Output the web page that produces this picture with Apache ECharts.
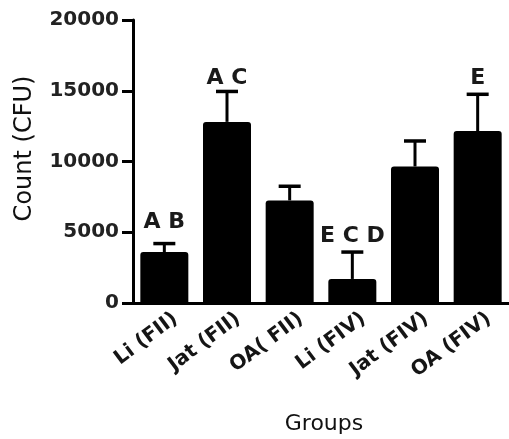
<!DOCTYPE html>
<html><head><meta charset="utf-8">
<script src="https://cdn.jsdelivr.net/npm/echarts@6/dist/echarts.min.js"></script>
<style>html,body{margin:0;padding:0;background:#fff}#c{width:509px;height:439px}</style>
</head><body><div id="c"></div>
<script>
var categories = ['Li (FII)', 'Jat (FII)', 'OA( FII)', 'Li (FIV)', 'Jat (FIV)', 'OA (FIV)'];
var means = [3600, 12800, 7250, 1700, 9650, 12150];
var errors = [600, 2150, 1000, 1900, 1800, 2600];
var yTicks = [0, 5000, 10000, 15000, 20000];
var letterIdx = [0, 1, 3, 5];
var letterText = ['A B', 'A C', 'E C D', 'E'];
var letterY = [5700, 15850, 4750, 15850];

var chart = echarts.init(document.getElementById('c'));
var errData = means.map(function (m, i) { return [i, m, m + errors[i]]; });
var lblData = letterIdx.map(function (ci, k) { return [ci, letterY[k], letterText[k]]; });

chart.setOption({
  backgroundColor: '#fff',
  animation: false,
  grid: { left: 133, right: 0, top: 20, bottom: 136, outerBoundsMode: 'none', containLabel: false },
  xAxis: {
    type: 'category', data: categories,
    name: 'Groups', nameLocation: 'middle', nameGap: 110,
    nameTextStyle: { fontFamily: 'DejaVu Sans', fontSize: 22, color: '#111', padding: [0, 0, 0, 6] },
    axisLine: { lineStyle: { color: '#000', width: 3 } },
    axisTick: { alignWithLabel: true, length: 7, lineStyle: { color: '#000', width: 3 } },
    axisLabel: { rotate: 37, margin: 22, padding: [66, -14, 0, 0], fontFamily: 'DejaVu Sans', fontWeight: 'bold', fontSize: 20, color: '#151515' }
  },
  yAxis: {
    type: 'value', min: yTicks[0], max: yTicks[yTicks.length - 1], interval: 5000,
    name: 'Count (CFU)', nameLocation: 'middle', nameGap: 96, nameRotate: 90,
    nameTextStyle: { fontFamily: 'DejaVu Sans', fontSize: 24, color: '#111', padding: [0, 0, 0, 26] },
    splitLine: { show: false },
    axisLine: { show: true, lineStyle: { color: '#000', width: 3 } },
    axisTick: { show: true, length: 11, lineStyle: { color: '#000', width: 3 } },
    axisLabel: { margin: 14, formatter: function (v) { return String(v); }, fontFamily: 'DejaVu Sans', fontWeight: 'bold', fontSize: 20, color: '#222' }
  },
  series: [
    {
      type: 'bar', data: means, barWidth: 48,
      itemStyle: { color: '#000', borderRadius: [3, 3, 0, 0] }
    },
    {
      type: 'custom', data: errData, z: 3,
      renderItem: function (params, api) {
        var p0 = api.coord([api.value(0), api.value(1)]);
        var p1 = api.coord([api.value(0), api.value(2)]);
        var hw = 11;
        return {
          type: 'group', children: [
            { type: 'line', shape: { x1: p0[0], y1: p0[1], x2: p1[0], y2: p1[1] }, style: { stroke: '#000', lineWidth: 3 } },
            { type: 'line', shape: { x1: p1[0] - hw, y1: p1[1], x2: p1[0] + hw, y2: p1[1] }, style: { stroke: '#000', lineWidth: 3.5 } }
          ]
        };
      }
    },
    {
      type: 'custom', data: lblData, z: 4,
      renderItem: function (params, api) {
        var p = api.coord([api.value(0), api.value(1)]);
        return {
          type: 'text', x: p[0], y: p[1],
          style: { text: letterText[params.dataIndex], fontFamily: 'DejaVu Sans', fontWeight: 'bold', fontSize: 22, fill: '#1a1a1a', align: 'center', verticalAlign: 'middle' }
        };
      }
    }
  ]
});
</script></body></html>
